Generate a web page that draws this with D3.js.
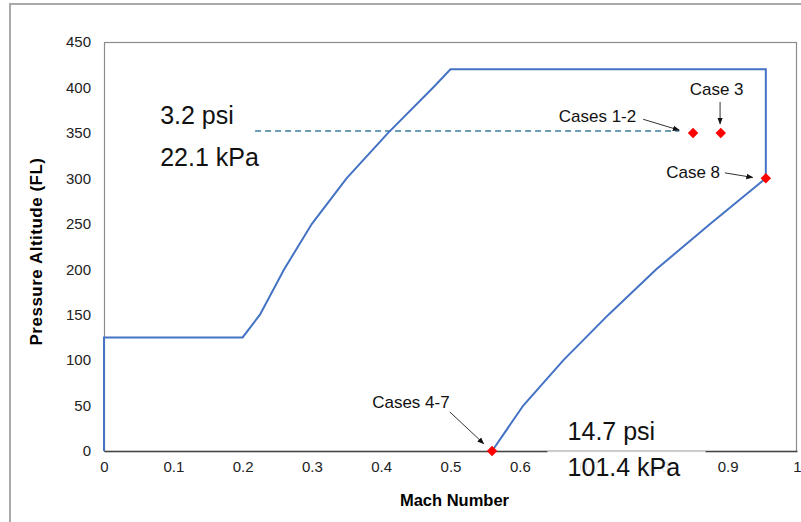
<!doctype html>
<html lang="en">
<head>
    <meta charset="UTF-8">
    <title>Flight envelope</title>
    <script src="https://cdn.jsdelivr.net/npm/d3@7"></script>
    <style>
        body { margin: 0; background: #fff; }
        text { font-family: "Liberation Sans", Arial, sans-serif; }
    </style>
</head>
<body>
<div class="canvas"></div>
<script>
  // envelope boundary (Mach, FL)
  const envMach = [0, 0, 0.2, 0.225, 0.26, 0.30, 0.35, 0.41, 0.475, 0.50, 0.955, 0.955, 0.875, 0.797, 0.728, 0.663, 0.605, 0.56];
  const envFL = [0, 125, 125, 150, 200, 250, 300, 350, 400, 420, 420, 300, 250, 200, 150, 100, 50, 0];

  // test cases
  const caseNames = ['Cases 1-2', 'Case 3', 'Case 8', 'Cases 4-7'];
  const caseMach = [0.85, 0.89, 0.955, 0.56];
  const caseFL = [350, 350, 300, 0];

  const xTicks = [0, 0.1, 0.2, 0.3, 0.4, 0.5, 0.6, 0.7, 0.8, 0.9, 1];
  const yTicks = [0, 50, 100, 150, 200, 250, 300, 350, 400, 450];

  const svg = d3.select('.canvas').append('svg')
    .attr('width', 801)
    .attr('height', 522);

  // outer frame
  svg.append('path')
    .attr('d', 'M10,522 V4 H801')
    .attr('fill', 'none')
    .attr('stroke', '#aaa')
    .attr('stroke-width', 2);

  let [mt, mr, mb, ml] = [42, 4, 71, 104];
  const width = 801, height = 522;
  const gw = width - ml - mr;
  const gh = height - mt - mb;

  const x = d3.scaleLinear().domain([0, 1]).range([0, gw]);
  const y = d3.scaleLinear().domain([0, 450]).range([gh, 0]);

  const graph = svg.append('g')
    .attr('transform', `translate(${ml}, ${mt})`);

  // plot border
  graph.append('rect')
    .attr('x', 0.5).attr('y', 0.5)
    .attr('width', gw - 1).attr('height', gh)
    .attr('fill', 'none')
    .attr('stroke', '#8c8c8c')
    .attr('stroke-width', 1.2);

  // dashed 3.2 psi line
  graph.append('line')
    .attr('x1', x(0.218)).attr('x2', x(0.83))
    .attr('y1', y(352)).attr('y2', y(352))
    .attr('stroke', '#3d7d9c')
    .attr('stroke-width', 1.5)
    .attr('stroke-dasharray', '6,4');

  // envelope
  const pts = envMach.map((m, i) => [m, envFL[i]]);
  graph.append('path')
    .datum(pts)
    .attr('fill', 'none')
    .attr('stroke', '#4472c4')
    .attr('stroke-width', 2)
    .attr('d', d3.line().x(d => x(d[0])).y(d => y(d[1])));

  // axes
  const xAxis = d3.axisBottom(x).tickValues(xTicks).tickSize(0).tickPadding(10)
    .tickFormat(d => d === 0 || d === 1 ? d3.format('d')(d) : d3.format('.1f')(d));
  const yAxis = d3.axisLeft(y).tickValues(yTicks).tickSize(0).tickPadding(13);

  const xAxisG = graph.append('g').attr('transform', `translate(0, ${gh})`).call(xAxis);
  const yAxisG = graph.append('g').call(yAxis);
  yAxisG.select('.domain').remove();
  xAxisG.select('.domain').attr('stroke', '#444').attr('stroke-width', 1.5);
  [xAxisG, yAxisG].forEach(g => g.selectAll('text')
    .style('font-size', '15px')
    .attr('fill', '#222'));

  // semi-opaque label box over part of the axis (ticks show faintly through)
  graph.append('rect')
    .attr('x', x(0.64)).attr('y', gh + 0.5)
    .attr('width', x(0.868) - x(0.64)).attr('height', 34)
    .attr('fill', '#fff')
    .attr('fill-opacity', 0.88);
  graph.append('line')
    .attr('x1', x(0.64)).attr('x2', x(0.868))
    .attr('y1', gh + 0.5).attr('y2', gh + 0.5)
    .attr('stroke', '#d0d0d0');

  // arrows
  svg.append('defs').append('marker')
    .attr('id', 'arr')
    .attr('viewBox', '0 0 10 10')
    .attr('refX', 9).attr('refY', 5)
    .attr('markerWidth', 7).attr('markerHeight', 7)
    .attr('orient', 'auto')
    .append('path').attr('d', 'M0,1 L10,5 L0,9 z').attr('fill', '#111');

  const arrows = [
    [[0.778, 365], [0.83, 353]],
    [[0.889, 384], [0.889, 360]],
    [[0.896, 306], [0.936, 301]],
    [[0.499, 43], [0.548, 8]]
  ];
  graph.selectAll('.arrow')
    .data(arrows)
    .enter()
    .append('line')
    .attr('class', 'arrow')
    .attr('x1', d => x(d[0][0])).attr('y1', d => y(d[0][1]))
    .attr('x2', d => x(d[1][0])).attr('y2', d => y(d[1][1]))
    .attr('stroke', '#333')
    .attr('stroke-width', 1)
    .attr('marker-end', 'url(#arr)');

  // case labels
  const labelPos = [[0.768, 369, 'end'], [0.884, 398, 'middle'], [0.889, 307, 'end'], [0.387, 54, 'start']];
  graph.selectAll('.clabel')
    .data(caseNames)
    .enter()
    .append('text')
    .attr('class', 'clabel')
    .attr('x', (d, i) => x(labelPos[i][0]))
    .attr('y', (d, i) => y(labelPos[i][1]))
    .attr('text-anchor', (d, i) => labelPos[i][2])
    .attr('dy', '0.35em')
    .style('font-size', '17px')
    .attr('fill', '#111')
    .text(d => d);

  // case markers
  graph.selectAll('.case')
    .data(caseNames)
    .enter()
    .append('path')
    .attr('class', 'case')
    .attr('transform', (d, i) => `translate(${x(caseMach[i])}, ${y(caseFL[i])})`)
    .attr('d', d3.symbol().type(d3.symbolDiamond2).size(70))
    .attr('fill', '#ff0000');

  // pressure annotations
  const notes = [['3.2 psi', 0.081, 369], ['22.1 kPa', 0.081, 323], ['14.7 psi', 0.669, 22], ['101.4 kPa', 0.669, -18]];
  graph.selectAll('.note')
    .data(notes)
    .enter()
    .append('text')
    .attr('class', 'note')
    .attr('x', d => x(d[1]))
    .attr('y', d => y(d[2]))
    .attr('dy', '0.35em')
    .style('font-size', '25px')
    .attr('fill', '#111')
    .text(d => d[0]);

  // axis titles
  svg.append('text')
    .attr('x', ml + gw / 2 + 4)
    .attr('y', 500)
    .attr('dy', '0.35em')
    .attr('text-anchor', 'middle')
    .style('font-size', '16.5px')
    .style('font-weight', 'bold')
    .text('Mach Number');

  svg.append('text')
    .attr('transform', `translate(36, ${mt + gh / 2 + 5}) rotate(-90)`)
    .attr('dy', '0.35em')
    .attr('text-anchor', 'middle')
    .style('font-size', '17px')
    .style('font-weight', 'bold')
    .style('letter-spacing', '0.5px')
    .text('Pressure Altitude (FL)');
</script>
</body>
</html>
